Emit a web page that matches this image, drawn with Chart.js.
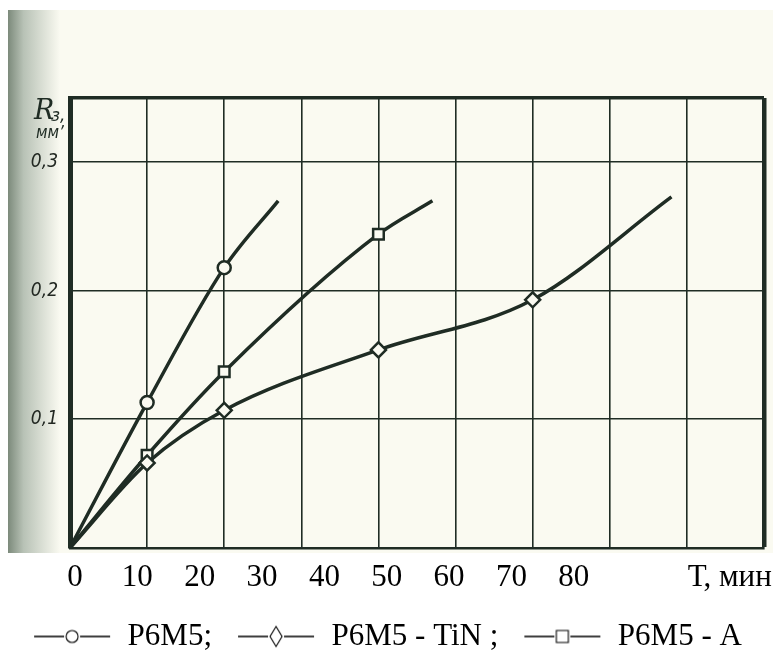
<!DOCTYPE html>
<html>
<head>
<meta charset="utf-8">
<script src="https://cdn.jsdelivr.net/npm/chart.js@4.4.1/dist/chart.umd.min.js"></script>
<style>
  html, body { margin: 0; padding: 0; background: #ffffff; }
  #wrap { width: 773px; height: 665px; position: relative; }
</style>
</head>
<body>
<div id="wrap"><canvas id="wearChart"></canvas></div>
<script>
// Wear R3 (mm) vs time T (min), three tool materials
const seriesNames = ['P6M5;', 'P6M5 - TiN ;', 'P6M5 - A'];

const p6m5Time = [0, 10, 20, 27];
const p6m5Wear = [0, 0.113, 0.218, 0.270];

const tinTime = [0, 10, 20, 40, 60, 78];
const tinWear = [0, 0.066, 0.107, 0.154, 0.193, 0.273];

const aTime = [0, 10, 20, 40, 47];
const aWear = [0, 0.072, 0.137, 0.244, 0.270];

const xTickValues = [0, 10, 20, 30, 40, 50, 60, 70, 80];
const xTickLabels = ['0', '10', '20', '30', '40', '50', '60', '70', '80'];
const xUnitLabel = 'Т, мин';
const yTickValues = [0.1, 0.2, 0.3];
const yTickLabels = ['0,1', '0,2', '0,3'];

const ink = '#1f2c24';
const paper = '#fafaf1';

const toPoints = (xs, ys) => xs.map((x, i) => ({ x: x, y: ys[i] }));

// marker only on measured points, not on the origin or the curve end
const markerRadius = r => ctx => {
    const n = ctx.dataset.data.length;
    return (ctx.dataIndex > 0 && ctx.dataIndex < n - 1) ? r : 0;
};

// little "—o—" icons for the legend (blank strip on the left = spacing)
function legendIcon(kind) {
    const c = document.createElement('canvas');
    c.width = 90; c.height = 24;
    const g = c.getContext('2d');
    const x0 = 12, x1 = 88, cx = (x0 + x1) / 2;
    g.strokeStyle = '#000';
    g.lineWidth = 1.4;
    g.beginPath(); g.moveTo(x0, 12); g.lineTo(cx - 8, 12); g.moveTo(cx + 8, 12); g.lineTo(x1, 12); g.stroke();
    g.lineWidth = 1.1;
    g.beginPath();
    if (kind === 'circle') {
        g.arc(cx, 12, 6, 0, Math.PI * 2);
    } else if (kind === 'diamond') {
        g.moveTo(cx, 2); g.lineTo(cx + 6, 12); g.lineTo(cx, 22); g.lineTo(cx - 6, 12); g.closePath();
    } else {
        g.rect(cx - 6, 6, 12, 12);
    }
    g.stroke();
    return c;
}
const legendIcons = [legendIcon('circle'), legendIcon('diamond'), legendIcon('square')];

const paperPlugin = {
    id: 'paper',
    beforeDraw(chart) {
        const { ctx } = chart;
        ctx.save();
        ctx.fillStyle = '#ffffff';
        ctx.fillRect(0, 0, chart.width, chart.height);
        ctx.fillStyle = paper;
        ctx.fillRect(8, 10, chart.width - 8, 543);
        const grad = ctx.createLinearGradient(8, 0, 60, 0);
        grad.addColorStop(0, '#7c8a7b');
        grad.addColorStop(0.3, '#b8c2b6');
        grad.addColorStop(1, paper);
        ctx.fillStyle = grad;
        ctx.fillRect(8, 10, 52, 543);
        ctx.restore();
    }
};

const yTitlePlugin = {
    id: 'yTitle',
    afterDraw(chart) {
        const { ctx } = chart;
        ctx.save();
        ctx.fillStyle = ink;
        ctx.font = 'italic 27px "DejaVu Serif"';
        ctx.fillText('R', 34, 112);
        ctx.font = 'italic 17px "DejaVu Sans"';
        ctx.fillText('з,', 51, 117);
        ctx.font = 'italic 17px "DejaVu Sans Condensed", "DejaVu Sans"';
        ctx.fillText('мм\u2019', 36, 134);
        ctx.restore();
    }
};

new Chart(document.getElementById('wearChart').getContext('2d'), {
    type: 'line',
    data: {
        datasets: [
            {
                label: seriesNames[0],
                data: toPoints(p6m5Time, p6m5Wear),
                pointStyle: 'circle',
                pointRadius: markerRadius(6.5)
            },
            {
                label: seriesNames[1],
                data: toPoints(tinTime, tinWear),
                pointStyle: 'rectRot',
                pointRadius: markerRadius(7.5)
            },
            {
                label: seriesNames[2],
                data: toPoints(aTime, aWear),
                pointStyle: 'rect',
                pointRadius: markerRadius(7.5)
            }
        ].map(ds => Object.assign(ds, {
            borderColor: ink,
            borderWidth: 3.5,
            pointBackgroundColor: paper,
            pointBorderColor: ink,
            pointBorderWidth: 2.5,
            pointHoverRadius: 0,
            cubicInterpolationMode: 'monotone',
            fill: false
        }))
    },
    options: {
        responsive: true,
        maintainAspectRatio: false,
        animation: false,
        layout: { padding: { top: 98, right: 9, left: 0, bottom: 3 } },
        plugins: {
            tooltip: { enabled: false },
            legend: {
                position: 'bottom',
                labels: {
                    usePointStyle: true,
                    pointStyleWidth: 90,
                    padding: 14,
                    color: '#000',
                    font: { family: '"Liberation Serif"', size: 31 },
                    generateLabels: chart => chart.data.datasets.map((ds, i) => ({
                        text: ds.label,
                        pointStyle: legendIcons[i],
                        fillStyle: 'transparent',
                        strokeStyle: 'transparent',
                        lineWidth: 0,
                        fontColor: '#000',
                        datasetIndex: i
                    }))
                }
            }
        },
        scales: {
            x: {
                type: 'linear',
                position: 'bottom',
                min: 0,
                max: 90,
                ticks: { display: false, stepSize: 10 },
                grid: {
                    color: ink,
                    drawTicks: false,
                    lineWidth: ctx => ctx.tick.value === 90 ? 4.5 : 1.6
                },
                border: { color: ink, width: 2.5 }
            },
            xl: {
                type: 'linear',
                position: 'bottom',
                min: -0.8,
                max: 110.5,
                grid: { display: false, drawTicks: false },
                border: { display: false },
                afterBuildTicks: scale => {
                    scale.ticks = xTickValues.map(v => ({ value: v })).concat([{ value: 105 }]);
                },
                afterFit: scale => { scale.paddingLeft = 0; scale.paddingRight = 0; },
                ticks: {
                    autoSkip: false,
                    maxRotation: 0,
                    padding: 11,
                    color: '#000',
                    font: { family: '"Liberation Serif"', size: 31 },
                    callback: (v, i) => i < xTickLabels.length ? xTickLabels[i] : xUnitLabel
                }
            },
            y: {
                min: 0,
                max: 0.35,
                afterFit: scale => { scale.width = 70; },
                afterBuildTicks: scale => {
                    scale.ticks = [0].concat(yTickValues, [0.35]).map(v => ({ value: v }));
                },
                ticks: {
                    padding: 12,
                    color: '#222822',
                    font: { family: '"DejaVu Sans Condensed", "DejaVu Sans"', size: 19, style: 'italic' },
                    callback: v => {
                        const i = yTickValues.indexOf(v);
                        return i >= 0 ? yTickLabels[i] : '';
                    }
                },
                grid: {
                    color: ink,
                    drawTicks: false,
                    lineWidth: ctx => ctx.tick.value === 0.35 ? 3.5 : 1.6
                },
                border: { color: ink, width: 5 }
            }
        }
    },
    plugins: [paperPlugin, yTitlePlugin]
});
</script>
</body>
</html>
